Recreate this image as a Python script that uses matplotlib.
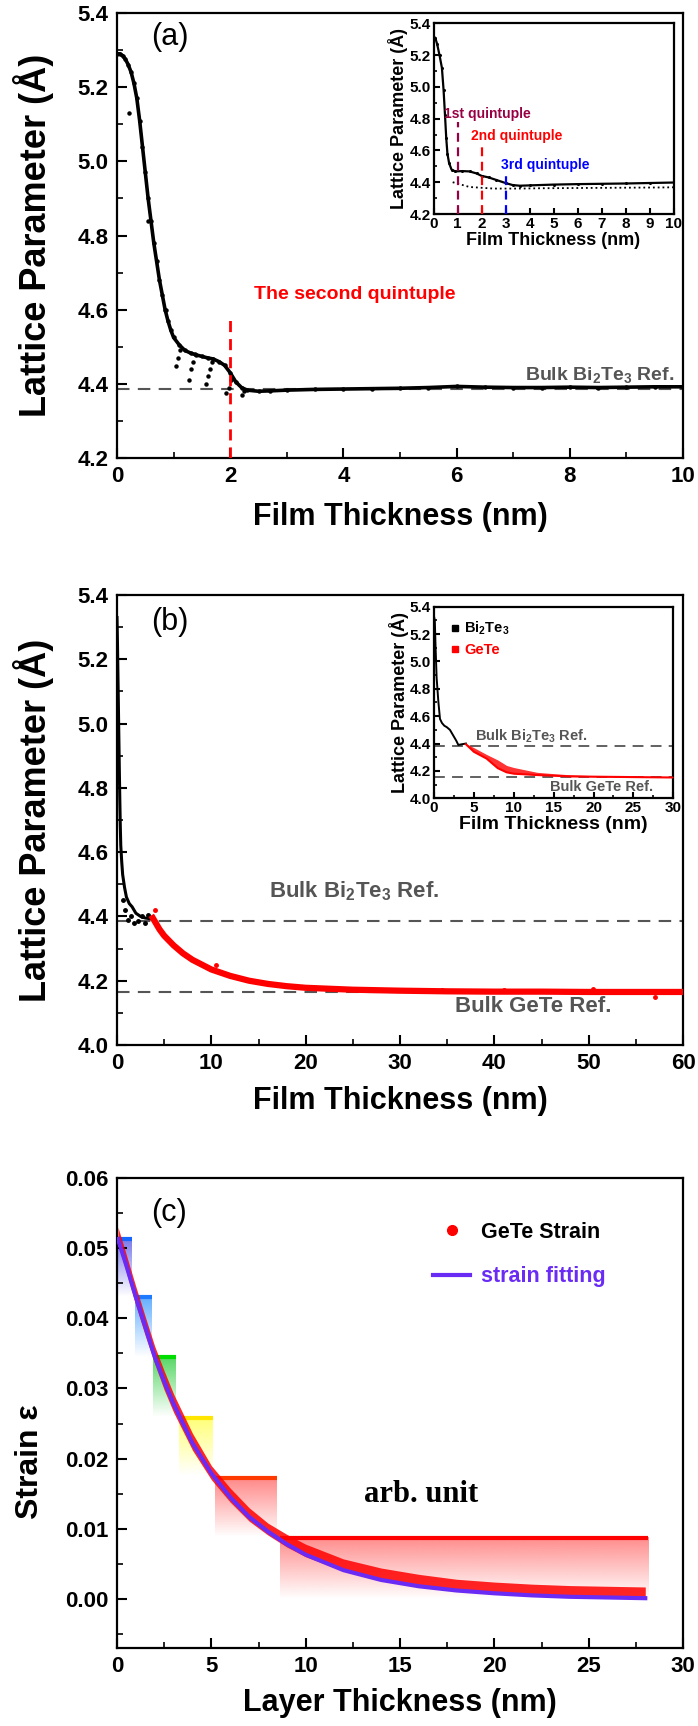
import matplotlib
matplotlib.use('Agg')
import matplotlib.pyplot as plt
import numpy as np
from matplotlib.lines import Line2D
from matplotlib.ticker import MultipleLocator, FormatStrFormatter
from matplotlib.colors import to_rgb

plt.rcParams['font.family'] = ['Liberation Sans', 'DejaVu Sans']
plt.rcParams['font.weight'] = 'bold'
plt.rcParams['axes.labelweight'] = 'bold'
plt.rcParams['mathtext.fontset'] = 'custom'
plt.rcParams['mathtext.rm'] = 'Liberation Sans:bold'
plt.rcParams['mathtext.it'] = 'Liberation Sans:bold'
plt.rcParams['mathtext.bf'] = 'Liberation Sans:bold'
plt.rcParams['axes.linewidth'] = 1.6
for ax_ in ('xtick', 'ytick'):
    plt.rcParams[ax_ + '.direction'] = 'in'
    plt.rcParams[ax_ + '.major.size'] = 7
    plt.rcParams[ax_ + '.minor.size'] = 4
    plt.rcParams[ax_ + '.major.width'] = 1.5
    plt.rcParams[ax_ + '.minor.width'] = 1.2

# ---- panel (a): Bi2Te3 lattice parameter, 0-10 nm
a_x = [0.0, 0.05, 0.1, 0.15, 0.2, 0.25, 0.3, 0.35, 0.4, 0.45, 0.5, 0.55, 0.6, 0.65, 0.7,
       0.75, 0.8, 0.85, 0.9, 0.95, 1.0, 1.1, 1.2, 1.3, 1.4, 1.5, 1.6, 1.7, 1.8, 1.9, 2.0,
       2.1, 2.2, 2.3, 2.5, 2.7, 3.0, 3.5, 4.0, 4.5, 5.0, 5.5, 6.0, 6.5, 7.0, 7.5, 8.0,
       8.5, 9.0, 9.5, 10.0]
a_y = [5.29, 5.29, 5.285, 5.275, 5.26, 5.24, 5.21, 5.17, 5.11, 5.04, 4.97, 4.90, 4.84,
       4.78, 4.73, 4.68, 4.64, 4.60, 4.57, 4.545, 4.525, 4.505, 4.49, 4.483, 4.478, 4.474,
       4.47, 4.467, 4.46, 4.45, 4.43, 4.405, 4.39, 4.383, 4.38, 4.381, 4.383, 4.385, 4.386,
       4.387, 4.388, 4.39, 4.393, 4.391, 4.39, 4.39, 4.391, 4.39, 4.391, 4.392, 4.392]
a_stray_x = [0.22, 0.54, 0.86, 1.05, 1.08, 1.12, 1.28, 1.31, 1.34, 1.38, 1.58, 1.61, 1.64,
             1.68, 1.93, 1.97, 2.02, 2.2, 2.25]
a_stray_y = [5.13, 4.84, 4.60, 4.447, 4.47, 4.49, 4.41, 4.44, 4.46, 4.48, 4.40, 4.42, 4.44,
             4.46, 4.375, 4.39, 4.41, 4.37, 4.38]
bulk_bi2te3 = 4.385
bulk_gete = 4.165

# inset of (a)
ia_x = [0.0, 0.07, 0.15, 0.25, 0.35, 0.42, 0.48, 0.53, 0.58, 0.65, 0.75, 0.9, 1.2, 1.5,
        1.8, 2.0, 2.3, 2.6, 3.0, 3.3, 3.6, 4.0, 5.0, 6.0, 7.0, 8.0, 9.0, 10.0]
ia_y = [5.31, 5.31, 5.27, 5.20, 5.12, 4.98, 4.82, 4.68, 4.58, 4.52, 4.48, 4.468, 4.47,
        4.468, 4.455, 4.44, 4.43, 4.415, 4.395, 4.382, 4.378, 4.38, 4.385, 4.388, 4.39,
        4.392, 4.395, 4.398]
ia_dot_x = [0.8, 1.5, 2.5, 3.5, 4.5, 5.5, 6.5, 7.5, 8.5, 9.5, 10.0]
ia_dot_y = [4.40, 4.37, 4.36, 4.36, 4.362, 4.363, 4.364, 4.365, 4.366, 4.367, 4.368]
quint_x = [1, 2, 3]
quint_top = [4.78, 4.63, 4.45]
quint_labels = ['1st quintuple', '2nd quintuple', '3rd quintuple']

# ---- panel (b): Bi2Te3 + GeTe, 0-60 nm
b_bt_x = [0.0, 0.05, 0.1, 0.15, 0.2, 0.25, 0.3, 0.35, 0.4, 0.5, 0.6, 0.8, 1.0, 1.3, 1.6,
          2.0, 2.5, 3.0, 3.5, 3.9]
b_bt_y = [5.33, 5.25, 5.15, 5.05, 4.95, 4.85, 4.76, 4.68, 4.62, 4.57, 4.53, 4.49, 4.46,
          4.44, 4.43, 4.41, 4.40, 4.395, 4.393, 4.39]
b_bt_sx = [0.6, 0.9, 1.2, 1.5, 1.8, 2.2, 2.6, 3.0, 3.3]
b_bt_sy = [4.45, 4.42, 4.39, 4.40, 4.38, 4.385, 4.40, 4.38, 4.405]
b_ge_x = [3.8, 4.5, 5, 6, 7, 8, 9, 10, 12, 14, 16, 18, 20, 25, 30, 35, 40, 45, 50, 55, 60]
b_ge_y = [4.395, 4.36, 4.34, 4.31, 4.285, 4.265, 4.25, 4.235, 4.215, 4.20, 4.19, 4.183,
          4.178, 4.172, 4.169, 4.167, 4.166, 4.166, 4.165, 4.165, 4.165]
b_ge_sx = [4.0, 10.5, 34.5, 41, 50.5, 57]
b_ge_sy = [4.42, 4.25, 4.17, 4.17, 4.175, 4.148]

# inset of (b)
ib_bt_x = [0.0, 0.1, 0.2, 0.33, 0.54, 0.75, 1.0, 1.3, 1.6, 2.0, 2.4, 2.8, 3.05, 3.5, 4.0]
ib_bt_y = [5.33, 5.30, 5.10, 4.88, 4.71, 4.58, 4.55, 4.53, 4.52, 4.50, 4.46, 4.42, 4.39,
           4.395, 4.40]
ib_ge_x = [4, 5, 6.6, 8, 9.1, 10, 12.9, 15, 17, 20, 25, 30]
ib_ge_lo = [4.395, 4.34, 4.29, 4.22, 4.19, 4.18, 4.17, 4.165, 4.16, 4.158, 4.155, 4.152]
ib_ge_hi = [4.40, 4.37, 4.32, 4.28, 4.24, 4.225, 4.19, 4.18, 4.172, 4.165, 4.16, 4.158]

# ---- panel (c): strain
c_x = [0.05, 0.5, 1, 1.5, 2, 2.5, 3, 4, 5, 6, 7, 8, 9, 10, 12, 14, 16, 18, 20, 22, 24,
       26, 28]
c_fit = [0.0513, 0.0475, 0.043, 0.0388, 0.0345, 0.031, 0.0278, 0.0222, 0.0179, 0.0145,
         0.0117, 0.0096, 0.0078, 0.0063, 0.0041, 0.0027, 0.0018, 0.0012, 0.0008, 0.0005,
         0.0003, 0.0002, 0.0001]
c_lo = [0.0505, 0.0465, 0.0418, 0.0375, 0.0335, 0.0298, 0.0266, 0.0212, 0.0170, 0.0138,
        0.0111, 0.0091, 0.0074, 0.0060, 0.0040, 0.0027, 0.0018, 0.0012, 0.0008, 0.0005,
        0.0004, 0.0003, 0.0002]
c_hi = [0.0530, 0.0490, 0.0445, 0.0402, 0.0360, 0.0325, 0.0292, 0.0236, 0.0190, 0.0158,
        0.0130, 0.0108, 0.0092, 0.0078, 0.0057, 0.0044, 0.0035, 0.0028, 0.0024, 0.0021,
        0.0019, 0.0018, 0.0017]
step_x0 = [0.05, 0.96, 1.93, 3.30, 5.20, 8.62]
step_x1 = [0.78, 1.84, 3.13, 5.10, 8.48, 28.16]
step_top = [0.0513, 0.0430, 0.0345, 0.0258, 0.0173, 0.0087]
step_bot = [0.0430, 0.0345, 0.0260, 0.0175, 0.0088, 0.0]
step_line_col = ['#1565ff', '#1e7bff', '#00dd00', '#ffe600', '#ff3a00', '#ff0000']
step_fill_col = ['#5656e8', '#3d9bff', '#2ecc40', '#ffff55', '#ff6868', '#ff6f6f']

W, H = 698, 1726
fig = plt.figure(figsize=(W / 100, H / 100), dpi=100)


def fbox(l, t, r, b):
    return [l / W, 1 - b / H, (r - l) / W, (b - t) / H]


def grad_bar(ax, x0, x1, y0, y1, color, a0=0.8):
    img = np.zeros((64, 1, 4))
    img[:, 0, :3] = to_rgb(color)
    img[:, 0, 3] = np.linspace(a0, 0, 64)
    ax.imshow(img, extent=[x0, x1, y0, y1], origin='upper', aspect='auto',
              interpolation='bilinear', zorder=1)


red_dash = (0, (4, 2.5))
grey_dash = (0, (6, 4))

# ================= (a)
ax = fig.add_axes(fbox(117, 13, 683, 458))
ax.axhline(bulk_bi2te3, color='#555555', lw=1.5, ls=grey_dash, zorder=1)
ax.plot(a_x, a_y, color='k', lw=2.6, marker='o', ms=2.2, zorder=3)
ax.plot(a_stray_x, a_stray_y, 'o', color='k', ms=2.2, zorder=3)
ax.vlines(2, 4.2, 4.58, colors='red', lw=2, linestyles=red_dash, zorder=4)
ax.text(4.2, 4.64, 'The second quintuple', color='red', fontsize=14, ha='center',
        va='center')
ax.text(9.85, 4.398, 'Bulk Bi$_2$Te$_3$ Ref.', color='#555555', fontsize=14, ha='right',
        va='bottom')
ax.text(0.094, 0.946, '(a)', transform=ax.transAxes, fontsize=22, fontweight='normal',
        ha='center', va='center')
ax.set_xlim(0, 10)
ax.set_ylim(4.2, 5.4)
ax.xaxis.set_major_locator(MultipleLocator(2))
ax.xaxis.set_minor_locator(MultipleLocator(1))
ax.yaxis.set_major_locator(MultipleLocator(0.2))
ax.yaxis.set_minor_locator(MultipleLocator(0.1))
ax.yaxis.set_major_formatter(FormatStrFormatter('%.1f'))
ax.tick_params(labelsize=16, pad=6)
ax.set_xlabel('Film Thickness (nm)', fontsize=22)
ax.set_ylabel('Lattice Parameter (Å)', fontsize=26)
ax.xaxis.set_label_coords(0.5, -0.1)
ax.yaxis.set_label_coords(-0.112, 0.5)

# inset (a)
ins = fig.add_axes(fbox(433.5, 23.3, 673.5, 214))
ins.plot(ia_dot_x, ia_dot_y, color='k', lw=1.3, ls=':', zorder=2)
ins.plot(ia_x, ia_y, color='k', lw=1.6, marker='o', ms=1.2, zorder=3)
quint_cols = ['#990044', '#ff0000', '#0000ff']
quint_tx = [0.45, 1.55, 2.8]
quint_ty = [4.83, 4.69, 4.51]
for qx, qt, qc, lx, ly, lab in zip(quint_x, quint_top, quint_cols, quint_tx, quint_ty,
                                   quint_labels):
    ins.vlines(qx, 4.2, qt, colors=qc, lw=1.6, linestyles=red_dash, zorder=4)
    ins.text(lx, ly, lab, color=qc, fontsize=10, ha='left', va='center')
ins.set_xlim(0, 10)
ins.set_ylim(4.2, 5.4)
ins.xaxis.set_major_locator(MultipleLocator(1))
ins.yaxis.set_major_locator(MultipleLocator(0.2))
ins.yaxis.set_minor_locator(MultipleLocator(0.1))
ins.yaxis.set_major_formatter(FormatStrFormatter('%.1f'))
ins.tick_params(labelsize=11, pad=2, length=4)
ins.tick_params(which='minor', length=2.5)
ins.set_xlabel('Film Thickness (nm)', fontsize=13, labelpad=1)
ins.set_ylabel('Lattice Parameter (Å)', fontsize=13, labelpad=1)

# ================= (b)
ax = fig.add_axes(fbox(117, 595, 683, 1045))
ax.axhline(bulk_bi2te3, color='#555555', lw=1.5, ls=grey_dash, zorder=1)
ax.axhline(bulk_gete, color='#555555', lw=1.5, ls=grey_dash, zorder=1)
ax.plot(b_bt_x, b_bt_y, color='k', lw=2.2, zorder=3)
ax.plot(b_bt_sx, b_bt_sy, 'o', color='k', ms=2.5, zorder=3)
ax.plot(b_ge_x, b_ge_y, color='red', lw=4.5, zorder=3)
ax.plot(b_ge_sx, b_ge_sy, 'o', color='red', ms=2.5, zorder=3)
ax.text(25.1, 4.48, 'Bulk Bi$_2$Te$_3$ Ref.', color='#555555', fontsize=16, ha='center',
        va='center')
ax.text(44.1, 4.12, 'Bulk GeTe Ref.', color='#555555', fontsize=16, ha='center',
        va='center')
ax.text(0.094, 0.94, '(b)', transform=ax.transAxes, fontsize=22, fontweight='normal',
        ha='center', va='center')
ax.set_xlim(0, 60)
ax.set_ylim(4.0, 5.4)
ax.xaxis.set_major_locator(MultipleLocator(10))
ax.xaxis.set_minor_locator(MultipleLocator(5))
ax.yaxis.set_major_locator(MultipleLocator(0.2))
ax.yaxis.set_minor_locator(MultipleLocator(0.1))
ax.yaxis.set_major_formatter(FormatStrFormatter('%.1f'))
ax.tick_params(labelsize=16, pad=6)
ax.set_xlabel('Film Thickness (nm)', fontsize=22)
ax.set_ylabel('Lattice Parameter (Å)', fontsize=26)
ax.xaxis.set_label_coords(0.5, -0.092)
ax.yaxis.set_label_coords(-0.112, 0.5)

# inset (b)
ins = fig.add_axes(fbox(434, 606.7, 673.3, 798.3))
ins.axhline(bulk_bi2te3, color='#555555', lw=1.3, ls=grey_dash, zorder=1)
ins.axhline(bulk_gete - 0.01, color='#555555', lw=1.3, ls=grey_dash, zorder=1)
ins.plot(ib_bt_x, ib_bt_y, color='k', lw=1.4, zorder=3)
ins.fill_between(ib_ge_x, ib_ge_lo, ib_ge_hi, color='red', alpha=0.8, lw=0, zorder=3)
ins.plot(ib_ge_x, ib_ge_lo, color='red', lw=1.5, zorder=3)
ins.text(12.2, 4.45, 'Bulk Bi$_2$Te$_3$ Ref.', color='#555555', fontsize=10.5,
         ha='center', va='center')
ins.text(21, 4.08, 'Bulk GeTe Ref.', color='#555555', fontsize=10.5, ha='center',
         va='center')
hb = [Line2D([], [], marker='s', color='k', ls='', ms=4.5),
      Line2D([], [], marker='s', color='red', ls='', ms=4.5)]
leg = ins.legend(hb, ['Bi$_2$Te$_3$', 'GeTe'], loc='upper left',
                 bbox_to_anchor=(0.04, 0.97), frameon=False, fontsize=10.5,
                 handlelength=0.6, handletextpad=0.3, labelspacing=0.4, borderpad=0)
leg.get_texts()[1].set_color('red')
ins.set_xlim(0, 30)
ins.set_ylim(4.0, 5.4)
ins.xaxis.set_major_locator(MultipleLocator(5))
ins.xaxis.set_minor_locator(MultipleLocator(2.5))
ins.yaxis.set_major_locator(MultipleLocator(0.2))
ins.yaxis.set_minor_locator(MultipleLocator(0.1))
ins.yaxis.set_major_formatter(FormatStrFormatter('%.1f'))
ins.tick_params(labelsize=11, pad=2, length=4)
ins.tick_params(which='minor', length=2.5)
ins.set_xlabel('Film Thickness (nm)', fontsize=14, labelpad=1)
ins.set_ylabel('Lattice Parameter (Å)', fontsize=13, labelpad=1)

# ================= (c)
ax = fig.add_axes(fbox(117, 1178, 683, 1648))
for x0, x1, yt, yb, lc, fc in zip(step_x0, step_x1, step_top, step_bot, step_line_col,
                                  step_fill_col):
    grad_bar(ax, x0, x1, yb, yt, fc)
    ax.hlines(yt, x0, x1, colors=lc, lw=3, zorder=2)
ax.fill_between(c_x, c_lo, c_hi, color='red', alpha=0.85, lw=0, zorder=3)
ax.plot(c_x, c_fit, color='#6a2cf5', lw=3, zorder=4)
ax.text(16.1, 0.0149, 'arb. unit', family='Liberation Serif', fontsize=22,
        fontweight='bold', ha='center', va='center')
ax.text(0.092, 0.926, '(c)', transform=ax.transAxes, fontsize=22, fontweight='normal',
        ha='center', va='center')
hc = [Line2D([], [], marker='o', color='red', ls='', ms=7),
      Line2D([], [], color='#6a2cf5', lw=3)]
leg = ax.legend(hc, ['GeTe Strain', 'strain fitting'], loc='upper left',
                bbox_to_anchor=(0.54, 0.93), frameon=False, fontsize=15.5,
                handlelength=1.7, handletextpad=0.5, labelspacing=1.1, borderpad=0)
leg.get_texts()[1].set_color('#6a2cf5')
ax.set_xlim(0, 30)
ax.set_ylim(-0.007, 0.06)
ax.xaxis.set_major_locator(MultipleLocator(5))
ax.xaxis.set_minor_locator(MultipleLocator(2.5))
ax.yaxis.set_major_locator(MultipleLocator(0.01))
ax.yaxis.set_minor_locator(MultipleLocator(0.005))
ax.yaxis.set_major_formatter(FormatStrFormatter('%.2f'))
ax.tick_params(labelsize=16, pad=6)
ax.set_xlabel('Layer Thickness (nm)', fontsize=22)
ax.xaxis.set_label_coords(0.5, -0.085)
fig.text(30 / W, 1 - 1462 / H, 'Strain ε', rotation=90, fontsize=23, ha='center',
         va='center')

fig.savefig('out.png', dpi=100)
